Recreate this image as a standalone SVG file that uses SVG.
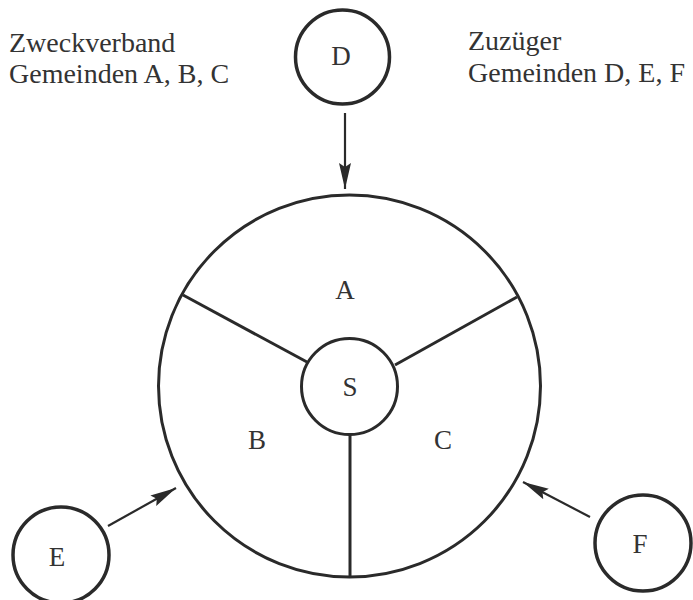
<svg xmlns="http://www.w3.org/2000/svg" width="693" height="600" viewBox="0 0 693 600">
<defs>
<style>
.t{font-family:"Liberation Serif","Times New Roman",serif;font-size:28px;fill:#333;}
.l{font-family:"Liberation Serif","Times New Roman",serif;font-size:27px;fill:#333;text-anchor:middle;}
.c{fill:none;stroke:#2a2a2a;stroke-width:3.5;}
.s{fill:none;stroke:#2a2a2a;stroke-width:3;}
.a{fill:none;stroke:#2a2a2a;stroke-width:2.2;marker-end:url(#ah);}
</style>
<marker id="ah" markerUnits="userSpaceOnUse" markerWidth="28" markerHeight="14" refX="26" refY="7" orient="auto">
<path d="M0,1 L26,7 L0,13 L4,7 Z" fill="#2a2a2a"/>
</marker>
</defs>
<rect width="693" height="600" fill="#fff"/>
<g id="legend-left">
<text class="t" x="9" y="52">Zweckverband</text>
<text class="t" x="9" y="83">Gemeinden A, B, C</text>
</g>
<g id="legend-right">
<text class="t" x="468" y="50">Zuzüger</text>
<text class="t" x="468" y="82">Gemeinden D, E, F</text>
</g>
<g id="node-main">
<circle class="s" cx="349.5" cy="386" r="191"/>
<line class="s" x1="183" y1="295" x2="307" y2="362"/>
<line class="s" x1="517" y1="297" x2="395" y2="365"/>
<line class="s" x1="350" y1="435" x2="350" y2="577"/>
<text class="l" x="345" y="299">A</text>
<text class="l" x="257" y="449">B</text>
<text class="l" x="443" y="449">C</text>
</g>
<g id="node-S">
<circle class="s" cx="349.5" cy="386.5" r="48"/>
<text class="l" x="350" y="396">S</text>
</g>
<g id="node-D">
<circle class="c" cx="342.5" cy="57" r="47"/>
<text class="l" x="341" y="65">D</text>
</g>
<g id="node-E">
<circle class="c" cx="61" cy="555" r="48"/>
<text class="l" x="57" y="566">E</text>
</g>
<g id="node-F">
<circle class="c" cx="643" cy="543" r="48"/>
<text class="l" x="640" y="553">F</text>
</g>
<g id="connectors">
<line class="a" x1="345" y1="113" x2="345" y2="189"/>
<line class="a" x1="108" y1="526" x2="176" y2="488"/>
<line class="a" x1="590" y1="517" x2="523" y2="482"/>
</g>
</svg>
